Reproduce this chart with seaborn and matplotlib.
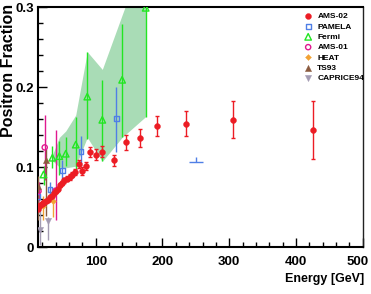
import matplotlib
matplotlib.use("Agg")
import matplotlib.pyplot as plt
import matplotlib.transforms as mtransforms
import seaborn as sns
import pandas as pd
from matplotlib.ticker import MultipleLocator

# ---------------- data ----------------
ams02_energy = [13, 15, 17, 19, 21, 23, 25, 28, 31, 34, 37, 40, 43, 46, 49, 53, 57,
                61, 65, 69, 75, 80, 86, 92, 100, 110, 127, 145, 166, 192, 235, 306, 426]
ams02_frac = [0.048, 0.0507, 0.052, 0.054, 0.055, 0.056, 0.057, 0.059, 0.062, 0.064,
              0.067, 0.0696, 0.073, 0.077, 0.080, 0.0834, 0.0855, 0.0875, 0.0905, 0.094,
              0.104, 0.0947, 0.101, 0.1187, 0.1155, 0.119, 0.1086, 0.131, 0.1365, 0.151,
              0.154, 0.159, 0.146]
ams02_err = [0.002, 0.002, 0.002, 0.002, 0.002, 0.002, 0.002, 0.002, 0.002, 0.002,
             0.002, 0.0025, 0.0025, 0.0025, 0.003, 0.003, 0.003, 0.0035, 0.0035, 0.004,
             0.005, 0.005, 0.005, 0.0065, 0.0065, 0.007, 0.007, 0.0095, 0.0115, 0.0125,
             0.0155, 0.023, 0.036]

pamela_energy = [13, 31.5, 50, 78, 131]
pamela_frac = [0.0635, 0.0717, 0.0955, 0.119, 0.1606]
pamela_err_lo = [0.008, 0.010, 0.014, 0.018, 0.042]
pamela_err_hi = [0.008, 0.010, 0.013, 0.020, 0.040]
pamela_last_energy = [250]
pamela_last_frac = [0.106]
pamela_last_xerr = [10]
pamela_last_err_hi = [0.006]

fermi_energy = [21.7, 35, 45.4, 55, 70, 87.3, 109.8, 139.5, 174.8]
fermi_frac = [0.0906, 0.1116, 0.1136, 0.1166, 0.128, 0.188, 0.159, 0.209, 0.299]
fermi_err_lo = [0.0126, 0.0126, 0.023, 0.0156, 0.031, 0.0534, 0.052, 0.072, 0.136]
fermi_err_hi = [0.0104, 0.0149, 0.019, 0.0204, 0.035, 0.056, 0.050, 0.070, 0.080]
fermi_band_energy = [35, 45.4, 55, 70, 87.3, 109.8, 139.5, 174.8]
fermi_band_lo = [0.108, 0.100, 0.099, 0.101, 0.137, 0.107, 0.137, 0.163]
fermi_band_hi = [0.115, 0.137, 0.145, 0.165, 0.244, 0.222, 0.290, 0.370]

ams01_energy = [14.2, 23.5, 40]
ams01_frac = [0.0698, 0.1245, 0.0705]
ams01_err_lo = [0.012, 0.041, 0.0365]
ams01_err_hi = [0.012, 0.041, 0.0755]

heat_energy = [20.5, 36]
heat_frac = [0.0516, 0.057]
heat_err_lo = [0.018, 0.019]
heat_err_hi = [0.012, 0.0084]

ts93_energy = [13.2, 24.7]
ts93_frac = [0.0767, 0.109]
ts93_err_lo = [0.043, 0.070]
ts93_err_hi = [0.012, 0.013]

caprice_energy = [16.5, 27.7]
caprice_frac = [0.0214, 0.033]
caprice_err_lo = [0.019, 0.024]
caprice_err_hi = [0.029, 0.005]

x_ticks = [100, 200, 300, 400, 500]
x_tick_labels = ["100", "200", "300", "400", "500"]
y_ticks = [0, 0.1, 0.2, 0.3]
y_tick_labels = ["0", "0.1", "0.2", "0.3"]

# ---------------- styling ----------------
sns.set_theme(style="ticks")
plt.rcParams["font.family"] = ["Liberation Sans", "DejaVu Sans"]

C_AMS02 = "#ec1c24"
C_PAMELA = "#4f7fe6"
C_FERMI = "#22e622"
C_BAND = "#a9dcb6"
C_AMS01 = "#e0198f"
C_HEAT = "#f2a234"
C_TS93 = "#8a5a3e"
C_CAPRICE = "#a39bb2"

W, H = 371, 294
fig = plt.figure(figsize=(W / 100, H / 100), dpi=100)
ax = fig.add_axes([37.5 / W, 47 / H, 325.2 / W, 240 / H])
ax.set_facecolor("white")

# Fermi systematic band
band = pd.DataFrame({"E": fermi_band_energy, "lo": fermi_band_lo, "hi": fermi_band_hi})
ax.fill_between(band["E"], band["lo"], band["hi"], color=C_BAND, lw=0, zorder=1)

# error bars
eb = dict(fmt="none", elinewidth=1.0, zorder=3)
ax.errorbar(fermi_energy, fermi_frac, yerr=[fermi_err_lo, fermi_err_hi], ecolor=C_FERMI, **eb)
ax.errorbar(pamela_energy, pamela_frac, yerr=[pamela_err_lo, pamela_err_hi], ecolor=C_PAMELA, **eb)
ax.errorbar(pamela_last_energy, pamela_last_frac, xerr=pamela_last_xerr,
            yerr=[[0], pamela_last_err_hi], ecolor=C_PAMELA, **eb)
ax.errorbar(ams01_energy, ams01_frac, yerr=[ams01_err_lo, ams01_err_hi], ecolor=C_AMS01, **eb)
ax.errorbar(heat_energy, heat_frac, yerr=[heat_err_lo, heat_err_hi], ecolor=C_HEAT, **eb)
ax.errorbar(ts93_energy, ts93_frac, yerr=[ts93_err_lo, ts93_err_hi], ecolor=C_TS93, **eb)
ax.errorbar(caprice_energy, caprice_frac, yerr=[caprice_err_lo, caprice_err_hi], ecolor=C_CAPRICE, **eb)
ax.errorbar(ams02_energy, ams02_frac, yerr=ams02_err, ecolor=C_AMS02, capsize=1.2,
            capthick=1.0, fmt="none", elinewidth=1.0, zorder=5)

# markers (seaborn)
sns.scatterplot(x=ams02_energy, y=ams02_frac, ax=ax, marker="o", s=18, color=C_AMS02,
                edgecolor=C_AMS02, linewidth=0.3, label="AMS-02", zorder=6)
sns.scatterplot(x=pamela_energy, y=pamela_frac, ax=ax, marker="s", s=12, color=C_PAMELA,
                facecolor="none", edgecolor=C_PAMELA, linewidth=1.0, label="PAMELA", zorder=4)
sns.scatterplot(x=fermi_energy, y=fermi_frac, ax=ax, marker="^", s=22, color=C_FERMI,
                facecolor="none", edgecolor=C_FERMI, linewidth=1.0, label="Fermi", zorder=4)
sns.scatterplot(x=ams01_energy, y=ams01_frac, ax=ax, marker="o", s=14, color=C_AMS01,
                facecolor="none", edgecolor=C_AMS01, linewidth=1.0, label="AMS-01", zorder=4)
sns.scatterplot(x=heat_energy, y=heat_frac, ax=ax, marker="D", s=9, color=C_HEAT,
                edgecolor=C_HEAT, linewidth=0.3, label="HEAT", zorder=4)
sns.scatterplot(x=ts93_energy, y=ts93_frac, ax=ax, marker="^", s=20, color=C_TS93,
                edgecolor=C_TS93, linewidth=0.3, label="TS93", zorder=4)
sns.scatterplot(x=caprice_energy, y=caprice_frac, ax=ax, marker="v", s=20, color=C_CAPRICE,
                edgecolor=C_CAPRICE, linewidth=0.3, label="CAPRICE94", zorder=4)

# axes
ax.set_xlim(12.7, 500)
ax.set_ylim(0, 0.3)
ax.set_xticks(x_ticks)
ax.set_xticklabels(x_tick_labels)
ax.set_yticks(y_ticks)
ax.set_yticklabels(y_tick_labels)
ax.xaxis.set_minor_locator(MultipleLocator(20))
ax.yaxis.set_minor_locator(MultipleLocator(0.02))
ax.tick_params(which="both", direction="in", top=False, right=False, color="black", width=1.0)
ax.tick_params(which="major", length=6.5)
ax.tick_params(which="minor", length=3.6)
ax.tick_params(axis="x", which="major", pad=6.5)
ax.tick_params(axis="y", which="major", pad=2.5)
for lab in ax.get_xticklabels() + ax.get_yticklabels():
    lab.set_fontsize(9.5)
    lab.set_fontweight("bold")
    lab.set_color("black")
# keep the last x tick label inside the picture, as in the reference
last = ax.get_xticklabels()[-1]
last.set_transform(last.get_transform() +
                   mtransforms.ScaledTranslation(-5 / 100, 0, fig.dpi_scale_trans))

for side in ["left", "bottom", "top"]:
    ax.spines[side].set_linewidth(1.5)
    ax.spines[side].set_color("black")
ax.spines["right"].set_linewidth(1.0)
ax.spines["right"].set_color("#222222")
ax.grid(False)

ax.set_ylabel("Positron Fraction", fontsize=11.5, fontweight="bold", color="black")
ylab = ax.yaxis.label
ylab.set_rotation_mode("default")
ylab.set_horizontalalignment("center")
ylab.set_verticalalignment("top")
ax.yaxis.set_label_coords(-0.0885, 1.0125)

ax.set_xlabel("Energy [GeV]", loc="right", fontsize=9, fontweight="bold", color="black")
ax.xaxis.set_label_coords(1.005, -0.108)

leg = ax.legend(loc="upper left", bbox_to_anchor=(304 / W, 1 - 12.5 / H),
                bbox_transform=fig.transFigure, frameon=False,
                prop={"weight": "bold", "size": 6}, handlelength=1.0, handletextpad=0.6,
                labelspacing=0.3, borderpad=0, borderaxespad=0, markerscale=1.0)
for t in leg.get_texts():
    t.set_color("black")

fig.savefig("out.png", dpi=100, facecolor="white")
